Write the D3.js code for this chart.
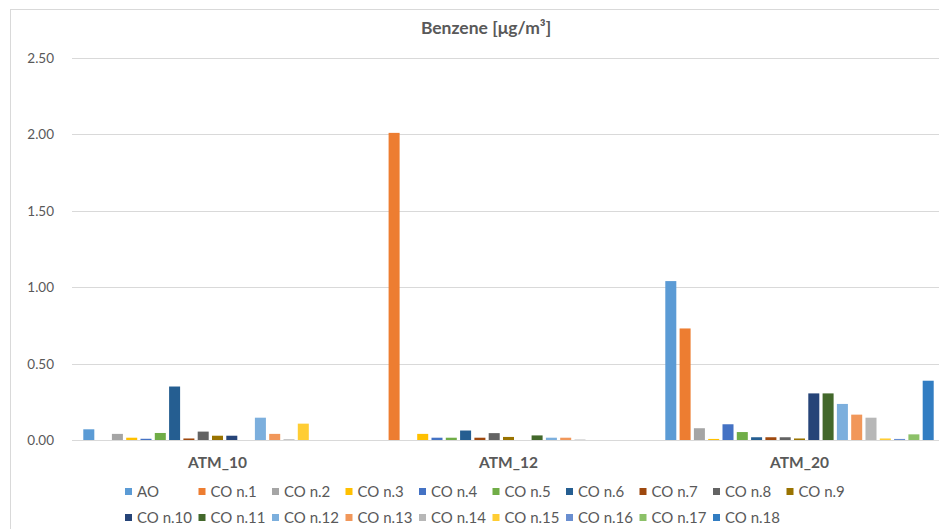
<!DOCTYPE html>
<html>
<head>
<meta charset="utf-8">
<script src="https://cdn.jsdelivr.net/npm/d3@7"></script>
<style>
  html, body { margin: 0; padding: 0; background: #fff; }
  svg { display: block; font-family: Lato, "Open Sans", sans-serif; }
</style>
</head>
<body>
<svg id="chart" width="939" height="529"></svg>
<script>
// data
const categories = ["ATM_10", "ATM_12", "ATM_20"];
const seriesNames = ["AO", "CO n.1", "CO n.2", "CO n.3", "CO n.4", "CO n.5", "CO n.6", "CO n.7", "CO n.8", "CO n.9",
  "CO n.10", "CO n.11", "CO n.12", "CO n.13", "CO n.14", "CO n.15", "CO n.16", "CO n.17", "CO n.18"];
const valuesATM10 = [0.07, 0, 0.04, 0.015, 0.008, 0.046, 0.35, 0.01, 0.055, 0.028, 0.028, 0, 0.146, 0.04, 0.005, 0.107, 0, 0, 0];
const valuesATM12 = [0, 2.01, 0, 0.04, 0.015, 0.015, 0.062, 0.015, 0.045, 0.02, 0, 0.03, 0.015, 0.015, 0.003, 0, 0, 0, 0];
const valuesATM20 = [1.04, 0.73, 0.077, 0.007, 0.103, 0.052, 0.018, 0.018, 0.018, 0.01, 0.305, 0.305, 0.236, 0.166, 0.146, 0.01, 0.007, 0.037, 0.388];
const yTicks = [0, 0.5, 1.0, 1.5, 2.0, 2.5];

// Excel office palette
const colors = ["#5B9BD5", "#ED7D31", "#A5A5A5", "#FFC000", "#4472C4", "#70AD47",
  "#255E91", "#9E480E", "#636363", "#997300", "#264478", "#43682B",
  "#7CAFDD", "#F1975A", "#B7B7B7", "#FFCD33", "#698ED0", "#8CC168", "#327DC2"];

const byCategory = [valuesATM10, valuesATM12, valuesATM20];
const textColor = "#595959";

const svg = d3.select("#chart");

// chart frame (cropped on right and bottom)
svg.append("rect").attr("x", 10.5).attr("y", 9.5).attr("width", 960).attr("height", 540)
  .attr("fill", "#fff").attr("stroke", "#d9d9d9").attr("stroke-width", 1);

const plot = { left: 72, right: 945, top: 58, bottom: 440 };

const y = d3.scaleLinear().domain([0, 2.5]).range([plot.bottom, plot.top]);
const x0 = d3.scaleBand().domain(categories).range([plot.left, plot.right]).padding(0);
const x1 = d3.scaleBand().domain(seriesNames).range([0, x0.bandwidth()])
  .paddingInner(0.23).paddingOuter(0.79);

// gridlines
svg.append("g").selectAll("line").data(yTicks).join("line")
  .attr("x1", plot.left).attr("x2", plot.right)
  .attr("y1", d => Math.round(y(d)) + 0.5).attr("y2", d => Math.round(y(d)) + 0.5)
  .attr("stroke", "#d9d9d9").attr("stroke-width", 1);

// y tick labels
svg.append("g").selectAll("text").data(yTicks).join("text")
  .attr("x", 54).attr("y", d => y(d) + 5)
  .attr("text-anchor", "end").attr("font-size", 13.5).attr("fill", textColor)
  .text(d => d3.format(".2f")(d));

// bars
const groups = svg.append("g").selectAll("g").data(categories).join("g")
  .attr("transform", d => `translate(${x0(d)},0)`);
groups.selectAll("rect")
  .data((c, ci) => seriesNames.map((s, si) => ({ s, si, v: byCategory[ci][si] })))
  .join("rect")
  .attr("x", d => x1(d.s))
  .attr("width", x1.bandwidth())
  .attr("y", d => y(d.v))
  .attr("height", d => y(0) - y(d.v))
  .attr("fill", d => colors[d.si]);

// category labels
svg.append("g").selectAll("text").data(categories).join("text")
  .attr("x", d => x0(d) + x0.bandwidth() / 2).attr("y", 468)
  .attr("text-anchor", "middle").attr("font-size", 15.5).attr("font-weight", 700)
  .attr("fill", textColor).text(d => d);

// title
svg.append("text").attr("x", 486).attr("y", 34).attr("text-anchor", "middle")
  .attr("font-size", 17.5).attr("font-weight", 700).attr("fill", textColor)
  .text("Benzene [μg/m³]");

// legend: 10 entries on the first row, 9 on the second
const legendX = 125, colW = 73.5, rowY = [492, 518];
const legend = svg.append("g").selectAll("g").data(seriesNames).join("g")
  .attr("transform", (d, i) => {
    const row = i < 10 ? 0 : 1;
    const col = i < 10 ? i : i - 10;
    return `translate(${legendX + col * colW},${rowY[row]})`;
  });
legend.append("rect").attr("x", 0).attr("y", -4).attr("width", 7).attr("height", 7)
  .attr("fill", (d, i) => colors[i]);
legend.append("text").attr("x", 12).attr("y", 5).attr("font-size", 15)
  .attr("fill", textColor).text(d => d);
</script>
</body>
</html>
